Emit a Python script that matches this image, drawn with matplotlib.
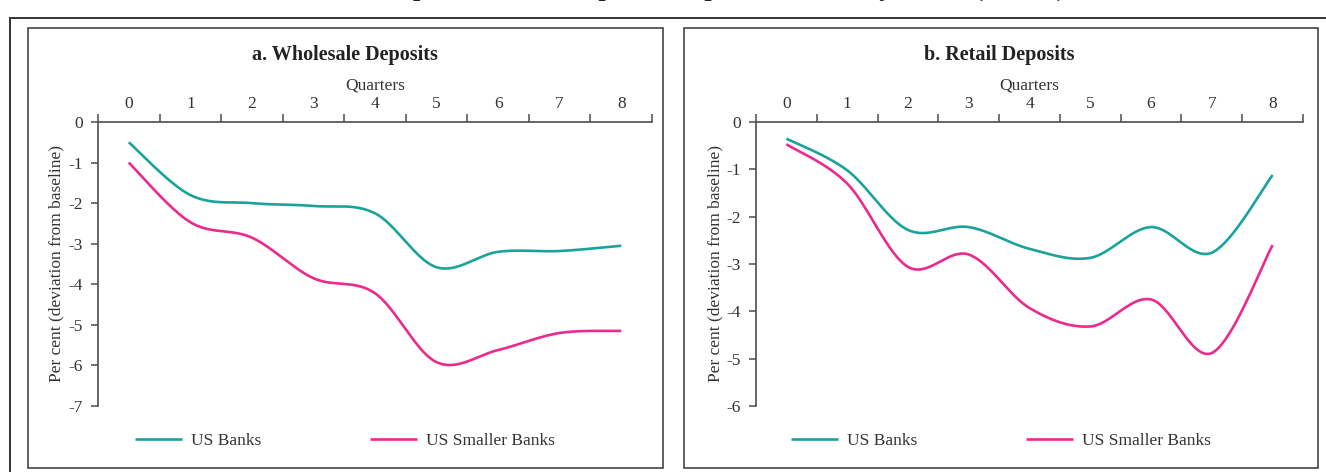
import numpy as np
import matplotlib
matplotlib.use("Agg")
import matplotlib.pyplot as plt
from matplotlib.patches import Rectangle

plt.rcParams['font.family'] = ['Liberation Serif', 'DejaVu Serif']
plt.rcParams['axes.unicode_minus'] = False

# data (quarters 0..8)
quarters = [0, 1, 2, 3, 4, 5, 6, 7, 8]
wholesale_us = [-0.5, -1.8, -2.0, -2.07, -2.25, -3.58, -3.2, -3.18, -3.05]
wholesale_small = [-1.0, -2.47, -2.85, -3.85, -4.22, -5.92, -5.62, -5.2, -5.15]
retail_us = [-0.35, -1.02, -2.28, -2.22, -2.68, -2.87, -2.22, -2.76, -1.12]
retail_small = [-0.47, -1.3, -3.06, -2.8, -3.93, -4.32, -3.75, -4.88, -2.6]

teal = "#1aa39b"
pink = "#ec2a8e"
axis_col = "#4d4d4d"


def smooth(xs, ys, n=40):
    # Catmull-Rom style bezier, like a spreadsheet "smoothed line"
    xs = np.asarray(xs, float)
    ys = np.asarray(ys, float)
    px = np.concatenate([[xs[0]], xs, [xs[-1]]])
    py = np.concatenate([[ys[0]], ys, [ys[-1]]])
    out_x, out_y = [], []
    t = np.linspace(0, 1, n)
    for i in range(1, len(px) - 2):
        x0, x1, x2, x3 = px[i - 1], px[i], px[i + 1], px[i + 2]
        y0, y1, y2, y3 = py[i - 1], py[i], py[i + 1], py[i + 2]
        c1x, c1y = x1 + (x2 - x0) / 6, y1 + (y2 - y0) / 6
        c2x, c2y = x2 - (x3 - x1) / 6, y2 - (y3 - y1) / 6
        bx = (1 - t) ** 3 * x1 + 3 * (1 - t) ** 2 * t * c1x + 3 * (1 - t) * t ** 2 * c2x + t ** 3 * x2
        by = (1 - t) ** 3 * y1 + 3 * (1 - t) ** 2 * t * c1y + 3 * (1 - t) * t ** 2 * c2y + t ** 3 * y2
        out_x.extend(bx)
        out_y.extend(by)
    return out_x, out_y


W, H = 1326, 472
fig = plt.figure(figsize=(W / 100, H / 100), dpi=100)


def fx(px):
    return px / W


def fy(py):
    return 1 - py / H


# outer box and the chart title, cut off by the top edge as in the source
fig.patches.append(Rectangle((fx(10), fy(500)), fx(1330), fy(18) - fy(500),
                             transform=fig.transFigure, fill=False,
                             edgecolor="#333333", linewidth=1.4))
fig.text(0.5, fy(-4), "Chart 2.4: Deposit Flows – Impulse Response to a Policy Shock (US, %)",
         ha="center", va="baseline", fontsize=19, fontweight="bold", color="#222222")

# panel boxes
for left, right in [(28, 663), (684, 1318)]:
    fig.patches.append(Rectangle((fx(left), fy(468)), fx(right - left), fy(28) - fy(468),
                                 transform=fig.transFigure, fill=False,
                                 edgecolor="#444444", linewidth=1.2))

panels = [
    ("a. Wholesale Deposits", wholesale_us, wholesale_small, -7, (98, 652), 345),
    ("b. Retail Deposits", retail_us, retail_small, -6, (756, 1303), 1001),
]

for title, us, small, ymin, (x0, x1), cx in panels:
    ax = fig.add_axes([fx(x0), fy(406), fx(x1 - x0), fy(122) - fy(406)])
    sx, sy = smooth(quarters, us)
    ax.plot(sx, sy, color=teal, lw=1.9, label="US Banks", solid_capstyle="butt")
    sx, sy = smooth(quarters, small)
    ax.plot(sx, sy, color=pink, lw=1.9, label="US Smaller Banks", solid_capstyle="butt")

    ax.set_xlim(-0.5, 8.5)
    ax.set_ylim(ymin, 0)
    for s in ["right", "bottom"]:
        ax.spines[s].set_visible(False)
    for s in ["left", "top"]:
        ax.spines[s].set_color(axis_col)
        ax.spines[s].set_linewidth(1.2)

    # tick marks between categories, labels at categories
    ax.xaxis.tick_top()
    ax.set_xticks(np.arange(-0.5, 9, 1))
    ax.set_xticklabels([])
    ax.set_xticks(quarters, minor=True)
    ax.set_xticklabels([str(q) for q in quarters], minor=True)
    ax.tick_params(axis="x", which="major", direction="out", length=6, width=1.1,
                   color=axis_col, top=True, bottom=False)
    ax.tick_params(axis="x", which="minor", length=0, labelsize=12.5, pad=7,
                   top=True, bottom=False, labeltop=True, labelbottom=False, labelcolor="#333333")
    ax.xaxis.set_label_position("top")
    ax.set_xlabel("Quarters", fontsize=12.5, labelpad=5, color="#333333")

    ax.set_yticks(range(ymin, 1))
    ax.tick_params(axis="y", direction="out", length=5, width=1.1, color=axis_col,
                   labelsize=12.5, pad=6, labelcolor="#333333")
    ax.set_ylabel("Per cent (deviation from baseline)", fontsize=12.5, color="#333333")
    ax.yaxis.set_label_coords(-0.06, 0.5)

    fig.text(fx((x0 + x1) / 2 - 30), fy(55), title, ha="center", va="center",
             fontsize=14.5, fontweight="bold", color="#222222")

    leg = ax.legend(loc="center", bbox_to_anchor=(fx(cx), fy(441)),
                    bbox_transform=fig.transFigure, ncol=2, frameon=False,
                    fontsize=12.5, handlelength=2.7, handletextpad=0.5,
                    columnspacing=6.3)
    for t in leg.get_texts():
        t.set_color("#333333")

fig.savefig("out.png", dpi=100)
